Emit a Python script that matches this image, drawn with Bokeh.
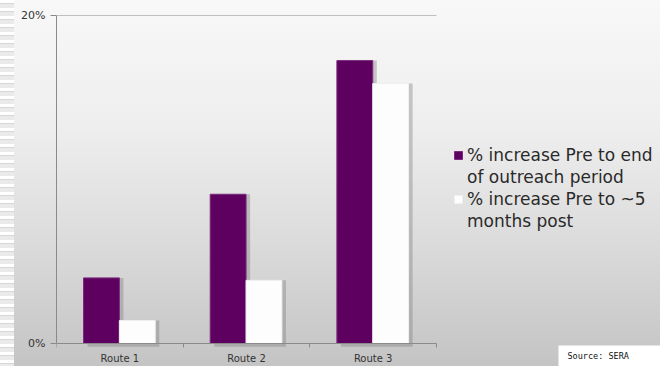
from bokeh.plotting import figure
from bokeh.models import (ColumnDataSource, Range1d, FixedTicker, PrintfTickFormatter,
                          Legend, LegendItem, Label)
from bokeh.transform import dodge
from bokeh.embed import file_html
from bokeh.resources import INLINE

# Data
routes = ["Route 1", "Route 2", "Route 3"]
pct_end_of_outreach = [4.0, 9.1, 17.25]
pct_five_months_post = [1.4, 3.85, 15.85]
# each legend entry wraps onto two lines; the square sits beside the first one
series_labels = [("% increase Pre to end", "of outreach period"),
                 ("% increase Pre to ~5", "months post")]
y_ticks = [0, 20]

PURPLE = "#5e005f"
WHITE = "#fdfdfd"
AXIS_GREY = "#8a8a8a"

n = len(routes)
pos = [i + 0.5 for i in range(n)]
src = ColumnDataSource(dict(x=pos, a=pct_end_of_outreach, b=pct_five_months_post))

# the frame runs to the right and bottom edges so the legend and the source note fit in it
p = figure(width=660, height=366, output_backend="svg", toolbar_location=None,
           x_range=Range1d(0, n * 604 / 380), y_range=Range1d(-23 / 16.4, 20),
           min_border_left=56, min_border_right=0, min_border_top=15,
           min_border_bottom=0)
p.border_fill_color = None
p.background_fill_color = None
p.outline_line_color = None
# page background: soft vertical gradient with a striped strip on the left edge
p.styles = {
    "background": (
        "repeating-linear-gradient(to bottom, #ffffff 0px, #ffffff 3px, #d6d6d6 3px, "
        "#d6d6d6 4px, #eaeaea 4px, #eaeaea 8px) 0 0 / 14px 100% no-repeat, "
        "linear-gradient(to bottom, #f8f8f8 0%, #eeeeee 35%, #dcdcdc 65%, #c4c4c4 100%)"
    )
}

bw = 0.283
sx, sy = 0.032, -0.2

# drop shadows
for col, off in (("a", -0.145), ("b", 0.138)):
    p.vbar(x=dodge("x", off + sx), top=col, bottom=sy, width=bw, source=src,
           fill_color="#808080", fill_alpha=0.4, line_color=None)

r_a = p.vbar(x=dodge("x", -0.145), top="a", bottom=0, width=bw, source=src,
             fill_color=PURPLE, line_color="#7a2a7c", line_width=1)
r_b = p.vbar(x=dodge("x", 0.138), top="b", bottom=0, width=bw, source=src,
             fill_color=WHITE, line_color="#f0f0f0", line_width=1)

# top gridline across the category area only
p.segment(x0=0, x1=n, y0=y_ticks[-1], y1=y_ticks[-1], line_color=AXIS_GREY, line_width=1)

# axes
p.yaxis.ticker = FixedTicker(ticks=y_ticks)
p.yaxis.formatter = PrintfTickFormatter(format="%d%%")
p.yaxis.bounds = (y_ticks[0], y_ticks[-1])
p.yaxis.axis_line_color = AXIS_GREY
p.yaxis.major_tick_line_color = AXIS_GREY
p.yaxis.major_tick_out = 6
p.yaxis.major_tick_in = 0
p.yaxis.minor_tick_line_color = None
p.yaxis.major_label_text_font = "DejaVu Sans"
p.yaxis.major_label_text_font_size = "11px"
p.yaxis.major_label_text_color = "#333333"
p.yaxis.major_label_standoff = 5

p.xaxis.fixed_location = 0
p.xaxis.bounds = (0, n)
p.xaxis.ticker = FixedTicker(ticks=pos, minor_ticks=list(range(n + 1)))
p.xaxis.major_label_overrides = {v: r for v, r in zip(pos, routes)}
p.xaxis.axis_line_color = AXIS_GREY
p.xaxis.major_tick_line_color = None
p.xaxis.minor_tick_line_color = AXIS_GREY
p.xaxis.minor_tick_out = 4
p.xaxis.minor_tick_in = 0
p.xaxis.major_label_text_font = "DejaVu Sans"
p.xaxis.major_label_text_font_size = "10px"
p.xaxis.major_label_text_color = "#333333"
p.xaxis.major_label_standoff = 3

p.xgrid.grid_line_color = None
p.ygrid.grid_line_color = None

items = []
for (first, second), r in zip(series_labels, (r_a, r_b)):
    items.append(LegendItem(label=first, renderers=[r]))
    items.append(LegendItem(label=second, renderers=[]))

legend = Legend(items=items, location=(397, 134), orientation="vertical",
                label_text_font="DejaVu Sans", label_text_font_size="17px",
                label_text_color="#2a2a2a", label_standoff=4, label_height=22,
                glyph_width=10, glyph_height=10, padding=0, margin=0, spacing=0,
                background_fill_alpha=0, border_line_color=None)
p.add_layout(legend, "center")

src_label = Label(x=3.963, y=-0.12, text="Source: SERA", anchor="top_left",
                  text_font="DejaVu Sans Mono", text_font_size="8.5px",
                  text_color="#111111", background_fill_color="white",
                  padding={"left": 9, "right": 40, "top": 6, "bottom": 8})
p.add_layout(src_label)

open("out.html", "w").write(file_html(p, INLINE))
